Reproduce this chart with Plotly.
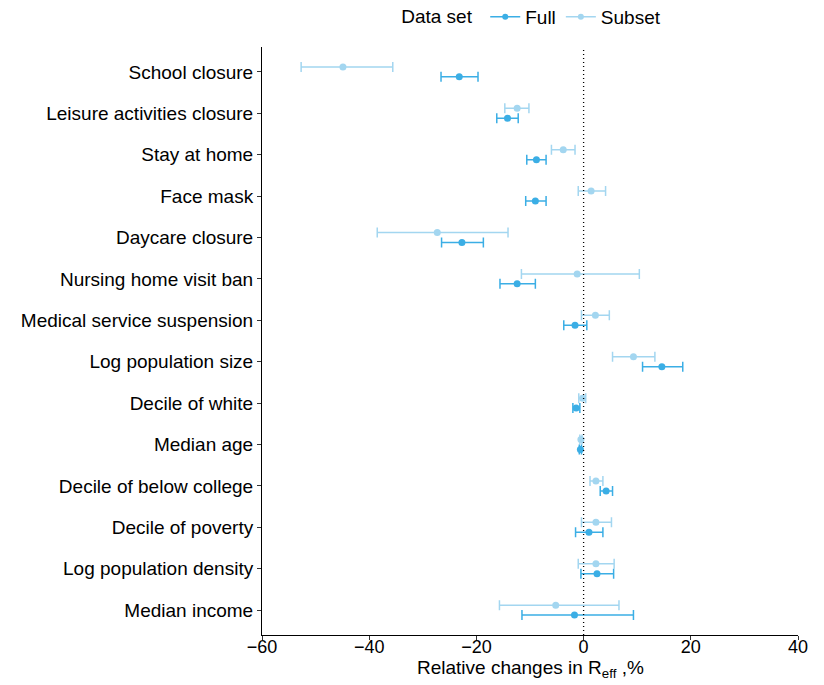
import plotly.graph_objects as go

# Covariates, top to bottom
categories = [
    "School closure", "Leisure activities closure", "Stay at home", "Face mask",
    "Daycare closure", "Nursing home visit ban", "Medical service suspension",
    "Log population size", "Decile of white", "Median age",
    "Decile of below college", "Decile of poverty", "Log population density",
    "Median income",
]

# Full data set: estimate and 95% interval (%)
full_est = [-23.2, -14.2, -8.8, -9.0, -22.7, -12.4, -1.6, 14.6, -1.4, -0.6, 4.2, 1.0, 2.5, -1.7]
full_lo  = [-26.6, -16.2, -10.6, -10.8, -26.5, -15.6, -3.7, 11.0, -2.0, -0.8, 3.1, -1.5, -0.5, -11.5]
full_hi  = [-19.7, -12.2, -7.0, -7.0, -18.7, -9.0, 0.6, 18.5, -0.7, -0.4, 5.4, 3.6, 5.6, 9.3]

# Subset: estimate and 95% interval (%)
sub_est = [-44.9, -12.4, -3.8, 1.4, -27.3, -1.2, 2.2, 9.3, -0.2, -0.5, 2.3, 2.3, 2.3, -5.2]
sub_lo  = [-52.7, -14.7, -6.0, -1.0, -38.5, -11.6, -0.4, 5.4, -0.9, -0.7, 1.2, -0.4, -1.0, -15.7]
sub_hi  = [-35.6, -10.2, -1.6, 4.1, -14.1, 10.4, 4.8, 13.3, 0.4, -0.3, 3.6, 5.2, 5.7, 6.6]

x_ticks = [-60, -40, -20, 0, 20, 40]

FULL_COL = "#3BAEE5"
SUB_COL = "#A3D6F0"
DODGE = 0.12
FONT = "Liberation Sans, Arial, sans-serif"
FS = 19

idx = list(range(len(categories)))

fig = go.Figure()

def add_series(est, lo, hi, offset, color, name):
    fig.add_trace(go.Scatter(
        x=est,
        y=[i + offset for i in idx],
        mode="markers",
        marker=dict(color=color, size=7),
        error_x=dict(
            type="data", symmetric=False,
            array=[h - e for h, e in zip(hi, est)],
            arrayminus=[e - l for e, l in zip(est, lo)],
            color=color, thickness=1.5, width=5,
        ),
        showlegend=False,
        hoverinfo="skip",
    ))
    # legend key: line with a dot
    fig.add_trace(go.Scatter(
        x=[None], y=[None], mode="lines+markers", name=name,
        line=dict(color=color, width=1.5),
        marker=dict(color=color, size=6),
    ))

add_series(sub_est, sub_lo, sub_hi, -DODGE, SUB_COL, "Subset")
add_series(full_est, full_lo, full_hi, DODGE, FULL_COL, "Full")

# reference line at zero
fig.add_shape(type="line", x0=0, x1=0, y0=0, y1=1, xref="x", yref="paper",
              line=dict(color="black", width=1.3, dash="1px,3px"))

# x-axis title
fig.add_annotation(
    text="Relative changes in R<sub>eff</sub> ,%",
    x=0.5, xref="paper", y=-0.058, yref="paper",
    xanchor="center", yanchor="middle", showarrow=False,
    font=dict(size=FS, color="black"),
)

fig.update_layout(
    width=824, height=685,
    margin=dict(l=262, r=26, t=47, b=50, autoexpand=False),
    paper_bgcolor="white", plot_bgcolor="white",
    font=dict(family=FONT, size=FS, color="black"),
    legend=dict(
        orientation="h", x=0.505, xanchor="center", y=1.051, yanchor="middle",
        title=dict(text="Data set ", font=dict(size=FS)),
        traceorder="reversed", itemwidth=30,
        font=dict(size=FS),
    ),
    xaxis=dict(
        range=[-60, 40], tickvals=x_ticks,
        ticktext=[str(v).replace("-", "\u2212") for v in x_ticks],
        showgrid=False, zeroline=False,
        showline=True, linecolor="black", linewidth=1,
        ticks="outside", ticklen=4, tickcolor="#333333",
        tickfont=dict(size=18, color="black"),
        ticklabelstandoff=-9,
    ),
    yaxis=dict(
        range=[len(categories) - 0.4, -0.6],
        tickvals=idx, ticktext=categories,
        showgrid=False, zeroline=False,
        showline=True, linecolor="black", linewidth=1,
        ticks="outside", ticklen=4, tickcolor="#333333",
        tickfont=dict(size=FS, color="black"),
    ),
)

fig.write_html("out.html")
